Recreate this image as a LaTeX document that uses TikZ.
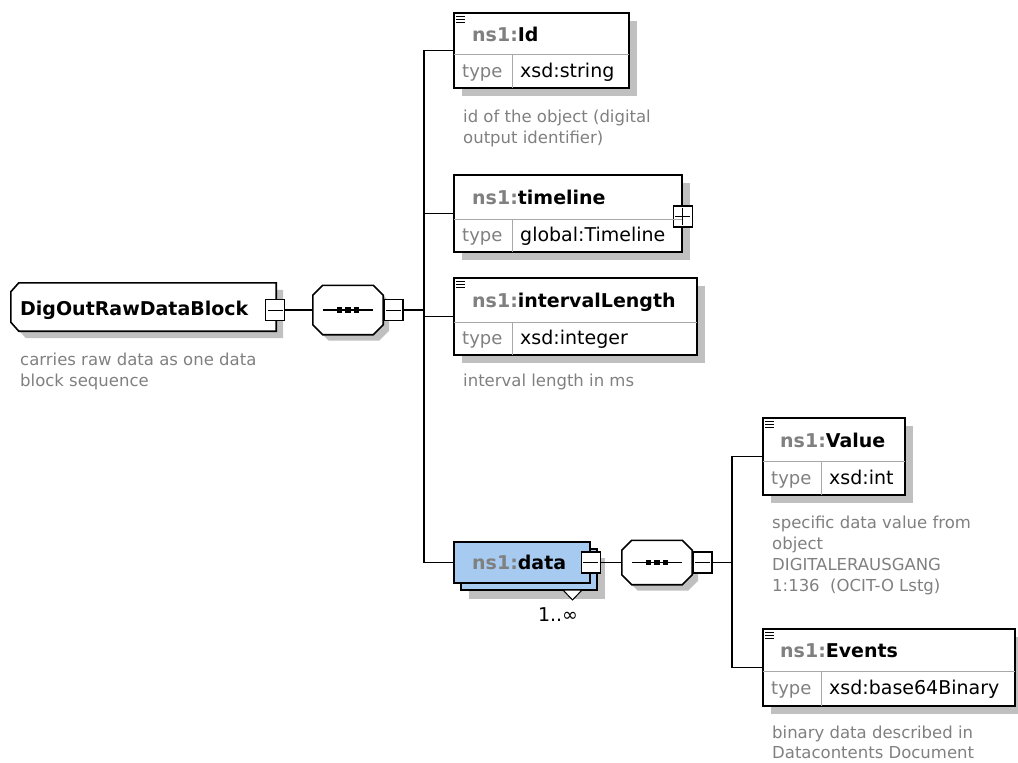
\documentclass[tikz,border=0pt]{standalone}
\usepackage{fontspec}
\setmainfont{DejaVu Sans}
\usetikzlibrary{positioning, shadows}
\definecolor{shadowgray}{HTML}{C0C0C0}
\definecolor{textgray}{HTML}{808080}
\definecolor{linegray}{HTML}{A8A8A8}
\definecolor{datablue}{HTML}{A6CAF0}
\newcommand{\nsprefix}{\textcolor{textgray}{ns1:}}
\tikzset{
        wire/.style={line width=1.6pt}, % connectors between the boxes
        element/.style={draw, line width=1.6pt, fill=white, inner sep=0pt,
          general shadow={fill=shadowgray, shadow xshift=8pt, shadow yshift=-8pt}},
        datael/.style={draw, line width=1.6pt, fill=datablue, inner sep=0pt,
          general shadow={fill=shadowgray, shadow xshift=15pt, shadow yshift=-16pt},
          general shadow={draw=black, fill=datablue, line width=1.6pt, shadow xshift=7pt, shadow yshift=-7pt}},
        holder/.style={inner sep=0pt}, % invisible node, the outline is drawn with octpath
        octpath/.style={insert path={([xshift=10pt]#1.north west) -- ([xshift=-10pt]#1.north east)
          -- ([yshift=-10pt]#1.north east) -- ([yshift=10pt]#1.south east) -- ([xshift=-10pt]#1.south east)
          -- ([xshift=10pt]#1.south west) -- ([yshift=10pt]#1.south west) -- ([yshift=-10pt]#1.north west) -- cycle}},
        rootpath/.style={insert path={([xshift=8pt]#1.north west) -- (#1.north east) -- (#1.south east)
          -- ([xshift=8pt]#1.south west) -- ([yshift=9pt]#1.south west) -- ([yshift=-9pt]#1.north west) -- cycle}},
        outline/.style={draw, line width=1.6pt, fill=white},
        castshadow/.style={fill=shadowgray, transform canvas={shift={(#1,-#1)}}},
        collapse/.style={draw, line width=1.3pt, fill=white, inner sep=0pt, minimum width=19, minimum height=21,
          path picture={\draw[line width=1pt] ([xshift=2pt]path picture bounding box.west) -- ([xshift=-2pt]path picture bounding box.east);}},
        expand/.style={draw, line width=1.3pt, fill=white, inner sep=0pt, minimum width=19, minimum height=21,
          path picture={\draw[line width=1pt] ([xshift=2pt]path picture bounding box.west) -- ([xshift=-2pt]path picture bounding box.east);
            \draw[line width=1pt] ([yshift=2pt]path picture bounding box.south) -- ([yshift=-2pt]path picture bounding box.north);}},
        divider/.style={draw=linegray, line width=0.9pt, shorten <=0.8pt, shorten >=0.8pt},
        icon/.style={line width=1pt},
        nametxt/.style={anchor=west, inner sep=0pt, text height=14pt, text depth=0pt,
          font=\fontsize{19}{22}\selectfont\bfseries},
        typetxt/.style={anchor=west, inner sep=0pt, text height=13.5pt, text depth=0pt, text=textgray,
          font=\fontsize{18}{22}\selectfont},
        valtxt/.style={anchor=west, inner sep=0pt, text height=13.5pt, text depth=0pt,
          font=\fontsize{19}{22}\selectfont},
        desc/.style={anchor=north west, inner sep=0pt, align=left, text=textgray,
          font=\fontsize{16.5}{21}\selectfont},
    }

\begin{document}
\begin{tikzpicture}[x=1pt, y=-1pt]
    \useasboundingbox (0,0) rectangle (1018,763);
    % root element with its sequence
    \node[holder, minimum width=265, minimum height=48] (root) at (143.5,307) {};
    \fill[castshadow=7pt, rootpath=root];
    \path[outline, rootpath=root];
    \node[nametxt] (rootname) at (20,308.5) {DigOutRawDataBlock};
    \node[collapse] (rootx) at (275,310) {};
    \node[desc] (rootdesc) at (20,352.5) {carries raw data as one data\\block sequence};
    \node[holder, minimum width=70, minimum height=49] (seqA) at (348,310) {};

    % children of the sequence
    \node[element, minimum width=175, minimum height=75] (id) at (541.5,50.5) {};
    \node[element, minimum width=228, minimum height=77] (timeline) at (568,213.5) {};
    \node[element, minimum width=243, minimum height=77] (interval) at (575.5,316.5) {};
    \node[datael, minimum width=136, minimum height=41] (data) at (522,562.5) {};
    \node[expand] (timelinex) at ([yshift=-3pt]timeline.east) {};

    % second sequence and its children
    \node[collapse] (datax) at (data.east) {};
    \node[holder, minimum width=70, minimum height=44] (seqB) at (657,562.5) {};
    \node[element, minimum width=142, minimum height=77] (value) at (834,456.5) {};
    \node[element, minimum width=252, minimum height=77] (events) at (889,667.5) {};

    % the two sequence compositors
    \foreach \s in {seqA, seqB} {
      \fill[castshadow=6pt, octpath=\s];
      \path[outline, octpath=\s];
      \draw[line width=1.4pt] ([xshift=-25pt]\s.center) -- ([xshift=25pt]\s.center);
      \foreach \dx in {-8.5,0,8.5}
        \fill ([xshift=\dx pt]\s.center) +(-2.6pt,-2.6pt) rectangle +(2.6pt,2.6pt);
    }
    \node[collapse, anchor=west] (seqAx) at (seqA.east) {};
    \node[collapse, anchor=west] (seqBx) at (seqB.east) {};
    \coordinate (busA) at (424,310);
    \coordinate (busB) at (732,562.5);

    % header line and type column of each element
    \foreach \n/\h in {id/42, timeline/45, interval/45, value/44, events/43} {
      \draw[divider] ([yshift=-\h pt]\n.north west) -- ([yshift=-\h pt]\n.north east);
      \draw[divider] ([shift={(59pt,-\h pt)}]\n.north west) -- ([xshift=59pt]\n.south west);
    }
    \foreach \n in {id, interval, value, events}
      \foreach \d in {4,7,10}
        \draw[icon] ([shift={(3pt,-\d pt)}]\n.north west) -- ++(9,0);

    % texts
    \node[nametxt] (idname) at (472,34.5) {\nsprefix Id};
    \node[typetxt] (idtype) at (462,70.5) {type};
    \node[valtxt] (idval) at (520,70.5) {xsd:string};
    \node[desc] (iddesc) at (463,109.5) {id of the object (digital\\output identifier)};

    \node[nametxt] (timelinename) at (472,197.5) {\nsprefix timeline};
    \node[typetxt] (timelinetype) at (462,235) {type};
    \node[valtxt] (timelineval) at (520,235) {global:Timeline};

    \node[nametxt] (intervalname) at (472,300.5) {\nsprefix intervalLength};
    \node[typetxt] (intervaltype) at (462,338) {type};
    \node[valtxt] (intervalval) at (520,338) {xsd:integer};
    \node[desc] (intervaldesc) at (463,373.5) {interval length in ms};

    \node[nametxt] (dataname) at (472,562) {\nsprefix data};
    \filldraw[fill=white, line width=1pt] (563,590) -- (572.5,600) -- (582,590) -- cycle;
    \node[font=\fontsize{19}{22}\selectfont, inner sep=0pt] (datamult) at (558,615) {1..∞};

    \node[nametxt] (valuename) at (780,440) {\nsprefix Value};
    \node[typetxt] (valuetype) at (771,477.5) {type};
    \node[valtxt] (valueval) at (829,477.5) {xsd:int};
    \node[desc] (valuedesc) at (772,515.5) {specific data value from\\object\\DIGITALERAUSGANG\\1:136\ \ (OCIT-O Lstg)};

    \node[nametxt] (eventsname) at (780,650.5) {\nsprefix Events};
    \node[typetxt] (eventstype) at (771,688) {type};
    \node[valtxt] (eventsval) at (829,688) {xsd:base64Binary};
    \node[desc, font=\fontsize{16.5}{20}\selectfont] (eventsdesc) at (772,726) {binary data described in\\Datacontents Document};

    % connectors
    \draw[wire] (rootx) -- (seqA) (seqAx) -- (busA);
    \draw[wire] (busA) |- (id) (busA) |- (timeline) (busA) |- (interval) (busA) |- (data);
    \draw[wire] (datax) -- (seqB) (seqBx) -- (busB);
    \draw[wire] (busB) |- (value) (busB) |- (events);
\end{tikzpicture}
\end{document}
